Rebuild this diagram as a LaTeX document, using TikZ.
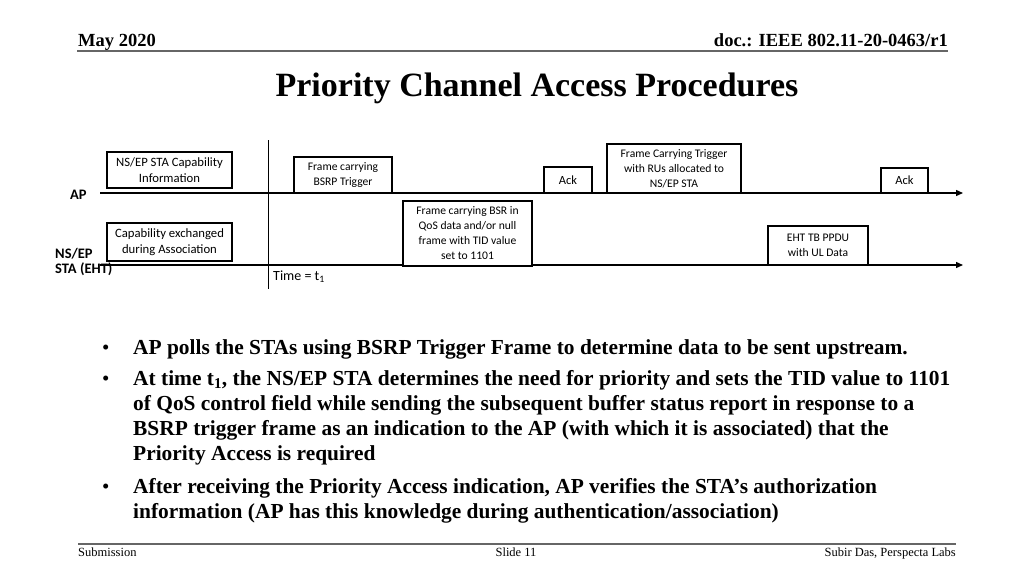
\documentclass[tikz,border=0pt]{standalone}
\usepackage{fontspec}
\setmainfont{Liberation Serif}
\newfontfamily\calib{Carlito}
\usetikzlibrary{arrows.meta}
\begin{document}
\begin{tikzpicture}[x=1pt,y=-1pt,
  box/.style={draw, line width=1.4pt, fill=white, inner sep=0pt, align=center,
    font=\calib\fontsize{11.6}{15}\selectfont},
  bigbox/.style={box, font=\calib\fontsize{12.7}{16}\selectfont},
  ackbox/.style={box, font=\calib\fontsize{12.5}{15}\selectfont},
  axis/.style={line width=1.3pt, -{Triangle[length=7pt,width=6pt]}},
  lane/.style={inner sep=0pt, align=left, font=\calib\bfseries\fontsize{14.5}{15}\selectfont},
  rule/.style={line width=1.6pt, draw=black!60},
  body/.style={inner sep=0pt, anchor=base west, font=\bfseries\fontsize{21.4}{25.3}\selectfont},
  bullet/.style={inner sep=0pt, anchor=base west, font=\fontsize{21}{24}\selectfont},
  foot/.style={inner sep=0pt, anchor=base, font=\fontsize{12.5}{14}\selectfont}]
\useasboundingbox (0,0) rectangle (1024,576);

% header
\node[inner sep=0pt, anchor=base west, font=\bfseries\fontsize{18.5}{20}\selectfont] (date) at (78,46) {May 2020};
\node[inner sep=0pt, anchor=base east, font=\bfseries\fontsize{18.5}{20}\selectfont] (doc) at (948,46) {doc.: IEEE 802.11-20-0463/r1};
\coordinate (hl) at (77,51); \coordinate (hr) at (948,51);
\draw[rule] (hl) -- (hr);
\node[inner sep=0pt, anchor=base, font=\bfseries\fontsize{34}{38}\selectfont] (title) at (537,96) {Priority Channel Access Procedures};

% axes
\coordinate (apL) at (100,193); \coordinate (apR) at (963,193);
\coordinate (staL) at (100,265); \coordinate (staR) at (963,265);
\coordinate (tTop) at (268,140); \coordinate (tBot) at (268,289);
\draw[axis] (apL) -- (apR);
\draw[axis] (staL) -- (staR);
\draw[line width=0.9pt] (tTop) -- (tBot);

% lane labels
\node[lane, anchor=base west] (aplab) at (70,199) {AP};
\node[lane, anchor=base west] (stalab) at (55,258) {\begin{tabular}[t]{@{}l@{}}NS/EP\\STA (EHT)\end{tabular}};
\node[inner sep=0pt, anchor=west, font=\calib\fontsize{14}{16}\selectfont] (time) at (273,277) {Time = t\textsubscript{1}};

% frames
\node[bigbox, minimum width=125pt, minimum height=36pt] (cap) at (169.5,170) {NS/EP STA Capability\\Information};
\node[bigbox, minimum width=125pt, minimum height=38pt] (assoc) at (169.5,242) {Capability exchanged\\during Association};
\node[box, minimum width=98pt, minimum height=36pt] (bsrp) at (343,175) {Frame carrying\\BSRP Trigger};
\node[box, minimum width=129pt, minimum height=65pt] (bsr) at (467.5,233.5) {Frame carrying BSR in\\QoS data and/or null\\frame with TID value\\set to 1101};
\node[ackbox, minimum width=48pt, minimum height=26pt] (ack1) at (568,180) {Ack};
\node[box, minimum width=134pt, minimum height=49pt] (trig) at (674,168.5) {Frame Carrying Trigger\\with RUs allocated to\\NS/EP STA};
\node[box, minimum width=100pt, minimum height=39pt] (eht) at (818,245.5) {EHT TB PPDU\\with UL Data};
\node[ackbox, minimum width=47pt, minimum height=25pt] (ack2) at (904.5,180.5) {Ack};

% bullets
\node[bullet] (b1) at (102,354) {•};
\node[body] (p1) at (133,354) {AP polls the STAs using BSRP Trigger Frame to determine data to be sent upstream.};
\node[bullet] (b2) at (102,385) {•};
\node[body] (p2) at (133,385) {\begin{tabular}[t]{@{}l@{}}At time t\textsubscript{1}, the NS/EP STA determines the need for priority and sets the TID value to 1101\\of QoS control field while sending the subsequent buffer status report in response to a\\BSRP trigger frame as an indication to the AP (with which it is associated) that the\\Priority Access is required\end{tabular}};
\node[bullet] (b3) at (102,493) {•};
\node[body] (p3) at (133,493) {\begin{tabular}[t]{@{}l@{}}After receiving the Priority Access indication, AP verifies the STA’s authorization\\information (AP has this knowledge during authentication/association)\end{tabular}};

% footer
\coordinate (fl) at (78,544); \coordinate (fr) at (956,544);
\draw[rule] (fl) -- (fr);
\node[foot, anchor=base west] (sub) at (78,556) {Submission};
\node[foot] (slide) at (516,556) {Slide 11};
\node[foot, anchor=base east] (auth) at (956,556) {Subir Das, Perspecta Labs};
\end{tikzpicture}
\end{document}
